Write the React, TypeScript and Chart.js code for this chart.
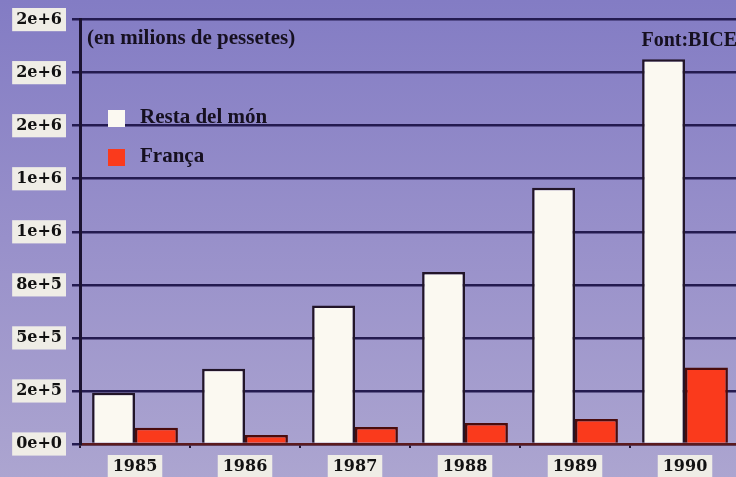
import React, { useEffect, useRef } from "react";
import { Chart, registerables } from "chart.js";

Chart.register(...registerables);

const years = ["1985", "1986", "1987", "1988", "1989", "1990"];
const restaDelMon = [241000, 355000, 653000, 810000, 1207000, 1813000];
const franca = [76000, 43000, 80000, 99000, 118000, 360000];
const yTickLabels = ["0e+0", "2e+5", "5e+5", "8e+5", "1e+6", "1e+6", "2e+6", "2e+6", "2e+6"];
const titleText = "(en milions de pessetes)";
const sourceText = "Font:BICE";

const decorPlugin = {
  id: "decor",
  beforeDraw(chart: any) {
    const { ctx, width, height } = chart;
    ctx.save();
    const g = ctx.createLinearGradient(0, 0, 0, height);
    g.addColorStop(0, "#837cc4");
    g.addColorStop(0.5, "#9890ca");
    g.addColorStop(1, "#aca5d0");
    ctx.fillStyle = g;
    ctx.fillRect(0, 0, width, height);
    ctx.restore();
  },
  afterDraw(chart: any) {
    const { ctx } = chart;
    ctx.save();
    ctx.fillStyle = "#161020";
    ctx.textBaseline = "middle";
    ctx.font = "bold 21px 'Liberation Serif'";
    ctx.textAlign = "left";
    ctx.fillText(titleText, 87, 39);
    ctx.font = "bold 20px 'Liberation Serif'";
    ctx.textAlign = "right";
    ctx.fillText(sourceText, 737, 41);
    // legend
    const items = chart.data.datasets;
    const rows = [118, 157];
    items.forEach((ds: any, i: number) => {
      const y = rows[i];
      ctx.fillStyle = ds.backgroundColor;
      ctx.fillRect(108, y - 8, 17, 17);
      ctx.fillStyle = "#161020";
      ctx.textAlign = "left";
      ctx.font = "bold 21px 'Liberation Serif'";
      ctx.fillText(ds.label, 140, y);
    });
    ctx.restore();
  },
};

export default function App() {
  const ref = useRef<HTMLCanvasElement>(null);
  useEffect(() => {
    document.body.style.margin = "0";
    const chart = new Chart(ref.current!, {
      type: "bar",
      data: {
        labels: years,
        datasets: [
          {
            label: "Resta del món",
            data: restaDelMon,
            backgroundColor: "#fbf9f1",
            borderColor: "#221528",
            borderWidth: 2.5,
            categoryPercentage: 0.78,
            barPercentage: 1.0,
          },
          {
            label: "França",
            data: franca,
            backgroundColor: "#fa3a1c",
            borderColor: "#4a0c0c",
            borderWidth: 2.5,
            categoryPercentage: 0.78,
            barPercentage: 1.0,
          },
        ],
      },
      options: {
        responsive: false,
        animation: false,
        layout: { padding: { top: 18, right: 0, left: 0, bottom: 0 } },
        plugins: {
          legend: { display: false },
          title: { display: false },
          tooltip: { enabled: false },
        },
        scales: {
          x: {
            afterFit: (s: any) => {
              s.height = 33;
            },
            grid: {
              display: true,
              offset: true,
              drawOnChartArea: false,
              drawTicks: true,
              tickLength: 4,
              color: "#221530",
              lineWidth: 2,
            },
            border: { display: true, color: "#5a1a1e", width: 2.5 },
            ticks: {
              color: "#111",
              font: { family: "'DejaVu Serif'", weight: "bold", size: 16 },
              padding: 9,
              showLabelBackdrop: true,
              backdropColor: "#efede6",
              backdropPadding: { top: 2, bottom: 2, left: 5, right: 5 },
            } as any,
          },
          y: {
            min: 0,
            max: 2000000,
            afterFit: (s: any) => {
              s.width = 80;
            },
            grid: {
              color: "#241b50",
              lineWidth: 2.5,
              drawTicks: true,
              tickLength: 8,
            },
            border: { display: true, color: "#1b1330", width: 3 },
            ticks: {
              stepSize: 250000,
              autoSkip: false,
              color: "#111",
              font: { family: "'DejaVu Serif'", weight: "bold", size: 16 },
              padding: 10,
              showLabelBackdrop: true,
              backdropColor: "#efede6",
              backdropPadding: { top: 2, bottom: 2, left: 4, right: 4 },
              callback: (_v: any, i: number) => yTickLabels[i],
            } as any,
          },
        },
      },
      plugins: [decorPlugin],
    });
    return () => chart.destroy();
  }, []);
  return (
    <div style={{ width: 736, height: 477, overflow: "hidden", position: "relative" }}>
      <canvas ref={ref} width={740} height={477} style={{ display: "block" }} />
    </div>
  );
}
